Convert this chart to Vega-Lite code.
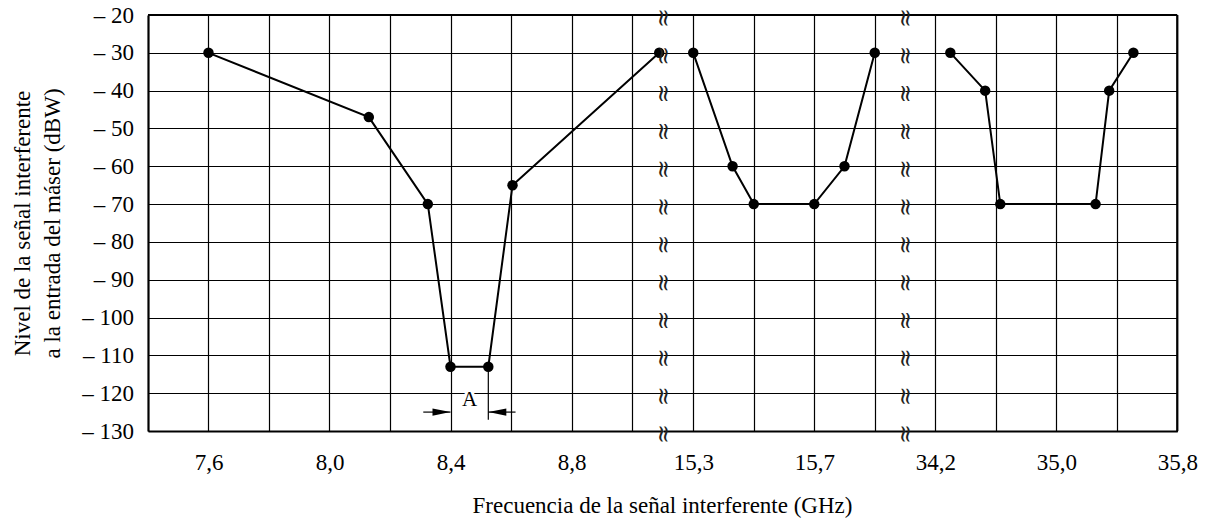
{
  "$schema": "https://vega.github.io/schema/vega-lite/v6.json",
  "background": "white",
  "padding": {"left": 10, "top": 4, "right": 5, "bottom": 5},
  "config": {
    "font": "Liberation Serif",
    "view": {"stroke": null},
    "axis": {
      "labelFont": "Liberation Serif",
      "titleFont": "Liberation Serif",
      "labelFontSize": 23,
      "titleFontSize": 23,
      "titleFontWeight": "normal",
      "labelColor": "black",
      "titleColor": "black",
      "gridColor": "black",
      "gridWidth": 1.2,
      "gridOpacity": 1,
      "domainColor": "black",
      "domainWidth": 2.2,
      "ticks": false,
      "labelFlush": false,
      "labelOverlap": false,
      "tickCount": 30
    }
  },
  "datasets": {
    "s1": [
      {"f": 7.6, "v": -30},
      {"f": 8.13, "v": -47},
      {"f": 8.325, "v": -70},
      {"f": 8.4, "v": -113},
      {"f": 8.525, "v": -113},
      {"f": 8.605, "v": -65},
      {"f": 9.09, "v": -30}
    ],
    "s2": [
      {"f": 15.3, "v": -30},
      {"f": 15.43, "v": -60},
      {"f": 15.5, "v": -70},
      {"f": 15.7, "v": -70},
      {"f": 15.8, "v": -60},
      {"f": 15.9, "v": -30}
    ],
    "s3": [
      {"f": 34.3, "v": -30},
      {"f": 34.53, "v": -40},
      {"f": 34.63, "v": -70},
      {"f": 35.26, "v": -70},
      {"f": 35.35, "v": -40},
      {"f": 35.51, "v": -30}
    ],
    "breaks": [
      {"v": -20}, {"v": -30}, {"v": -40}, {"v": -50}, {"v": -60}, {"v": -70},
      {"v": -80}, {"v": -90}, {"v": -100}, {"v": -110}, {"v": -120}, {"v": -130}
    ],
    "one": [{}]
  },
  "spacing": 0,
  "bounds": "flush",
  "hconcat": [
    {
      "width": 514.25,
      "height": 416,
      "layer": [
        {
          "data": {"name": "s1"},
          "mark": {"type": "line", "color": "black", "strokeWidth": 2},
          "encoding": {
            "x": {
              "field": "f", "type": "quantitative",
              "scale": {"domain": [7.4, 9.1], "nice": false, "zero": false},
              "axis": {
                "values": [7.6, 7.8, 8.0, 8.2, 8.4, 8.6, 8.8, 9.0],
                "tickCount": 30,
                "labelExpr": "indexof([7.6, 8.0, 8.4, 8.8], datum.value) >= 0 ? replace(format(datum.value, '.1f'), '.', ',') : ''",
                "labelPadding": 20,
                "grid": true,
                "title": "Frecuencia de la señal interferente (GHz)",
                "titleX": 514,
                "titleY": 81,
                "titleAlign": "center",
                "titleBaseline": "alphabetic"
              }
            },
            "y": {
              "field": "v", "type": "quantitative",
              "scale": {"domain": [-130, -20], "nice": false, "zero": false},
              "axis": {
                "values": [-130, -120, -110, -100, -90, -80, -70, -60, -50, -40, -30, -20],
                "tickCount": 30,
                "labelExpr": "'– ' + abs(datum.value)",
                "labelPadding": 14.5,
                "grid": true,
                "title": ["Nivel de la señal interferente", "a la entrada del máser (dBW)"],
                "titleLineHeight": 30,
                "titleX": -119,
                "titleBaseline": "alphabetic",
                "titleAlign": "center"
              }
            }
          }
        },
        {
          "data": {"name": "s1"},
          "mark": {"type": "circle", "color": "black", "size": 110, "opacity": 1},
          "encoding": {
            "x": {"field": "f", "type": "quantitative"},
            "y": {"field": "v", "type": "quantitative"}
          }
        },
        {
          "data": {"name": "one"},
          "mark": {"type": "rule", "color": "black", "strokeWidth": 2.2},
          "encoding": {"x": {"datum": 7.4}, "x2": {"datum": 9.1}, "y": {"datum": -20}}
        },
        {
          "data": {"name": "one"},
          "mark": {"type": "rule", "color": "black", "strokeWidth": 1.2},
          "encoding": {"x": {"datum": 8.525}, "y": {"datum": -113}, "y2": {"datum": -127}}
        },
        {
          "data": {"name": "one"},
          "mark": {"type": "rule", "color": "black", "strokeWidth": 1.2},
          "encoding": {"x": {"datum": 8.31}, "x2": {"datum": 8.4}, "y": {"datum": -125}}
        },
        {
          "data": {"name": "one"},
          "mark": {"type": "rule", "color": "black", "strokeWidth": 1.2},
          "encoding": {"x": {"datum": 8.525}, "x2": {"datum": 8.615}, "y": {"datum": -125}}
        },
        {
          "data": {"name": "one"},
          "mark": {"type": "point", "shape": "M-1,-0.2L0,0L-1,0.2Z", "size": 1296, "filled": true, "color": "black", "opacity": 1, "strokeWidth": 0},
          "encoding": {"x": {"datum": 8.4}, "y": {"datum": -125}}
        },
        {
          "data": {"name": "one"},
          "mark": {"type": "point", "shape": "M1,-0.2L0,0L1,0.2Z", "size": 1296, "filled": true, "color": "black", "opacity": 1, "strokeWidth": 0},
          "encoding": {"x": {"datum": 8.525}, "y": {"datum": -125}}
        },
        {
          "data": {"name": "one"},
          "mark": {"type": "text", "text": "A", "font": "Liberation Serif", "fontSize": 21, "color": "white", "stroke": "white", "strokeWidth": 6, "align": "center", "baseline": "alphabetic"},
          "encoding": {"x": {"datum": 8.463}, "y": {"datum": -123.5}}
        },
        {
          "data": {"name": "one"},
          "mark": {"type": "text", "text": "A", "font": "Liberation Serif", "fontSize": 21, "color": "black", "align": "center", "baseline": "alphabetic"},
          "encoding": {"x": {"datum": 8.463}, "y": {"datum": -123.5}}
        }
      ]
    },
    {
      "width": 242,
      "height": 416,
      "layer": [
        {
          "data": {"name": "s2"},
          "mark": {"type": "line", "color": "black", "strokeWidth": 2},
          "encoding": {
            "x": {
              "field": "f", "type": "quantitative",
              "scale": {"domain": [15.2, 16.0], "nice": false, "zero": false},
              "axis": {
                "values": [15.3, 15.5, 15.7, 15.9],
                "tickCount": 30,
                "labelExpr": "indexof([15.3, 15.7], datum.value) >= 0 ? replace(format(datum.value, '.1f'), '.', ',') : ''",
                "labelPadding": 20,
                "grid": true,
                "title": null
              }
            },
            "y": {
              "field": "v", "type": "quantitative",
              "scale": {"domain": [-130, -20], "nice": false, "zero": false},
              "axis": {
                "values": [-130, -120, -110, -100, -90, -80, -70, -60, -50, -40, -30, -20],
                "tickCount": 30,
                "labels": false,
                "domain": false,
                "grid": true,
                "title": null
              }
            }
          }
        },
        {
          "data": {"name": "s2"},
          "mark": {"type": "circle", "color": "black", "size": 110, "opacity": 1},
          "encoding": {
            "x": {"field": "f", "type": "quantitative"},
            "y": {"field": "v", "type": "quantitative"}
          }
        },
        {
          "data": {"name": "one"},
          "mark": {"type": "rule", "color": "black", "strokeWidth": 2.2},
          "encoding": {"x": {"datum": 15.2}, "x2": {"datum": 16.0}, "y": {"datum": -20}}
        },
        {
          "data": {"name": "breaks"},
          "mark": {"type": "text", "text": "≈", "angle": 90, "font": "DejaVu Serif", "fontSize": 24, "color": "#222", "align": "center", "baseline": "middle", "yOffset": 3},
          "encoding": {"x": {"datum": 15.2}, "y": {"field": "v", "type": "quantitative"}}
        }
      ]
    },
    {
      "width": 272.25,
      "height": 416,
      "layer": [
        {
          "data": {"name": "s3"},
          "mark": {"type": "line", "color": "black", "strokeWidth": 2},
          "encoding": {
            "x": {
              "field": "f", "type": "quantitative",
              "scale": {"domain": [34.0, 35.8], "nice": false, "zero": false},
              "axis": {
                "values": [34.2, 34.6, 35.0, 35.4, 35.8],
                "tickCount": 30,
                "labelExpr": "indexof([34.2, 35.0, 35.8], datum.value) >= 0 ? replace(format(datum.value, '.1f'), '.', ',') : ''",
                "labelPadding": 20,
                "grid": true,
                "title": null
              }
            },
            "y": {
              "field": "v", "type": "quantitative",
              "scale": {"domain": [-130, -20], "nice": false, "zero": false},
              "axis": {
                "values": [-130, -120, -110, -100, -90, -80, -70, -60, -50, -40, -30, -20],
                "tickCount": 30,
                "labels": false,
                "domain": false,
                "grid": true,
                "title": null
              }
            }
          }
        },
        {
          "data": {"name": "s3"},
          "mark": {"type": "circle", "color": "black", "size": 110, "opacity": 1},
          "encoding": {
            "x": {"field": "f", "type": "quantitative"},
            "y": {"field": "v", "type": "quantitative"}
          }
        },
        {
          "data": {"name": "one"},
          "mark": {"type": "rule", "color": "black", "strokeWidth": 2.2},
          "encoding": {"x": {"datum": 34.0}, "x2": {"datum": 35.8}, "y": {"datum": -20}}
        },
        {
          "data": {"name": "one"},
          "mark": {"type": "rule", "color": "black", "strokeWidth": 2.2},
          "encoding": {"x": {"datum": 35.8}, "y": {"datum": -130}, "y2": {"datum": -20}}
        },
        {
          "data": {"name": "breaks"},
          "mark": {"type": "text", "text": "≈", "angle": 90, "font": "DejaVu Serif", "fontSize": 24, "color": "#222", "align": "center", "baseline": "middle", "yOffset": 3},
          "encoding": {"x": {"datum": 34.0}, "y": {"field": "v", "type": "quantitative"}}
        }
      ]
    }
  ]
}
